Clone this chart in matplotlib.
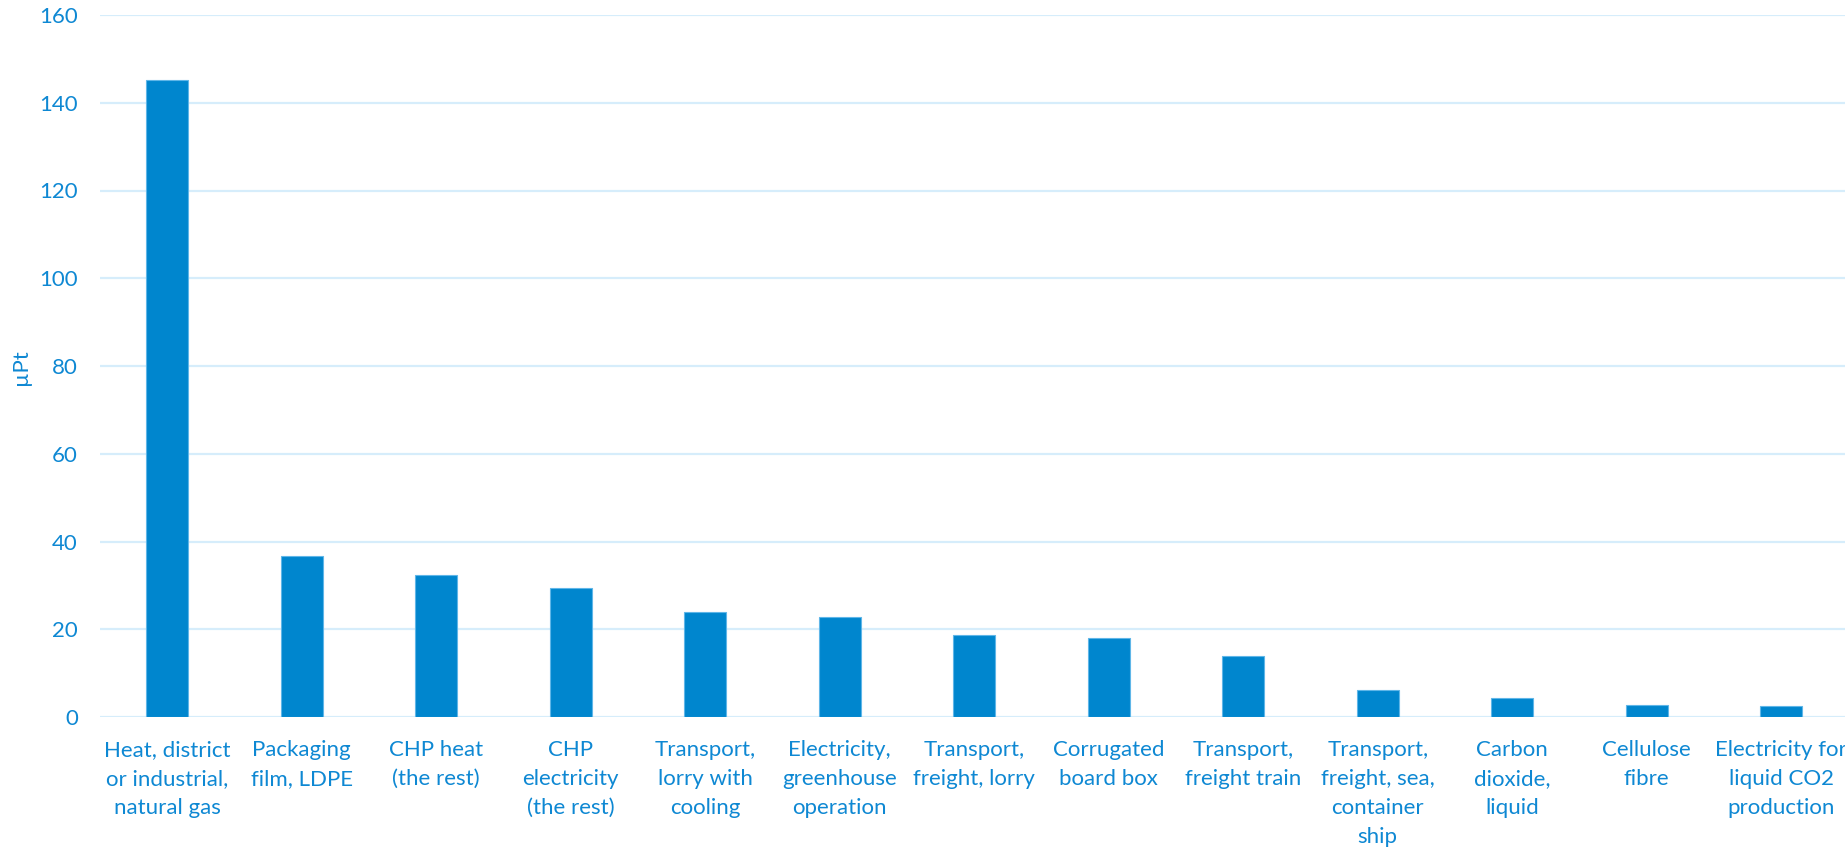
import matplotlib
matplotlib.use("Agg")
import matplotlib.pyplot as plt

categories = [
    "Heat, district\nor industrial,\nnatural gas",
    "Packaging\nfilm, LDPE",
    "CHP heat\n(the rest)",
    "CHP\nelectricity\n(the rest)",
    "Transport,\nlorry with\ncooling",
    "Electricity,\ngreenhouse\noperation",
    "Transport,\nfreight, lorry",
    "Corrugated\nboard box",
    "Transport,\nfreight train",
    "Transport,\nfreight, sea,\ncontainer\nship",
    "Carbon\ndioxide,\nliquid",
    "Cellulose\nfibre",
    "Electricity for\nliquid CO2\nproduction",
]
values = [145.1, 36.8, 32.3, 29.3, 24.0, 22.9, 18.8, 18.1, 13.8, 6.1, 4.3, 2.7, 2.5]
yticks = [0, 20, 40, 60, 80, 100, 120, 140, 160]

text_color = "#0E88D3"
bar_color = "#0086CE"
grid_color = "#D6EDFB"

plt.rcParams['font.family'] = ['Lato', 'DejaVu Sans']

fig = plt.figure(figsize=(18.45, 8.51), dpi=100)
W, H = 1845, 851
left_px, right_px, top_px, bot_px = 100, 100 + 13 * 134.5, 15, 717
ax = fig.add_axes([left_px / W, 1 - bot_px / H, (right_px - left_px) / W, (bot_px - top_px) / H])

x = list(range(len(categories)))
ax.bar(x, values, width=0.312, color=bar_color, edgecolor="#5FB6E8", linewidth=0.8, zorder=3)

ax.set_xlim(-0.5, len(categories) - 0.5)
ax.set_ylim(0, 160)
ax.set_yticks(yticks)
ax.set_yticklabels([str(t) for t in yticks])
ax.set_xticks(x)
ax.set_xticklabels(categories, linespacing=1.56)

for t in yticks:
    ax.axhline(t, color=grid_color, linewidth=1.6, zorder=1)

for s in ax.spines.values():
    s.set_visible(False)

ax.tick_params(axis='y', length=0, pad=16, labelsize=16, labelcolor=text_color)
ax.tick_params(axis='x', length=0, pad=16.5, labelsize=16, labelcolor=text_color)

fig.text(21 / W, 1 - 367 / H, "µPt", rotation=90, ha='center', va='center',
         fontsize=16, color=text_color)

fig.savefig("out.png", dpi=100)
